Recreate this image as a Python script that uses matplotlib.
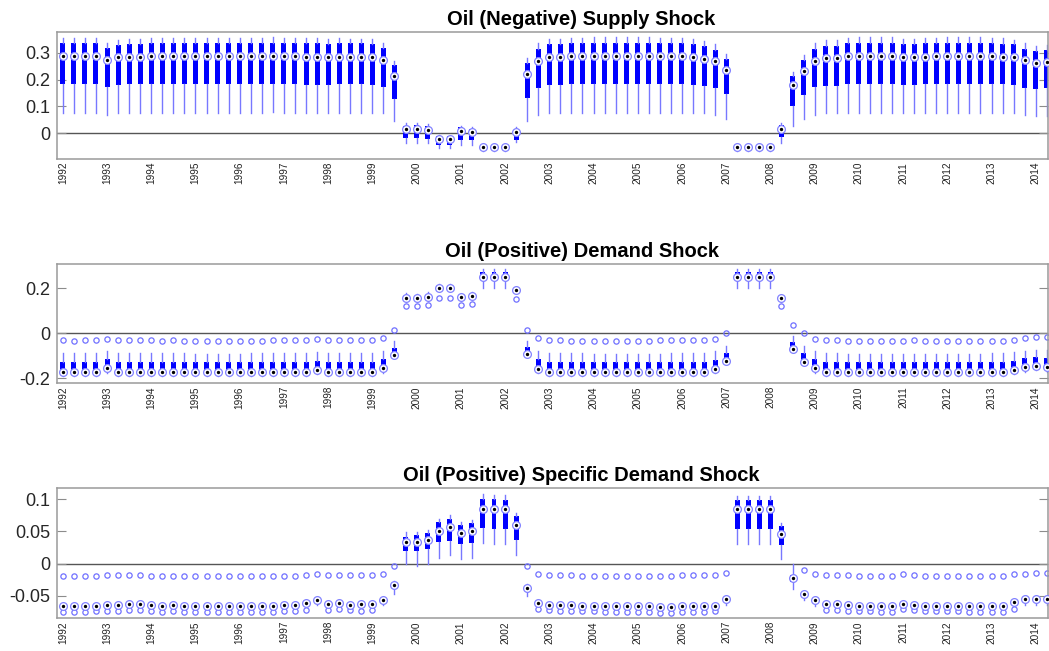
import numpy as np
import matplotlib
matplotlib.use('Agg')
import matplotlib.pyplot as plt
from matplotlib import font_manager

nan = np.nan

# quarterly positions, 1992Q1 .. 2014Q2
years = [str(y) for y in range(1992, 2015)]
n_q = 90

# ---- Oil (Negative) Supply Shock ----
sup_med = [0.287, 0.287, 0.287, 0.287, 0.272, 0.284, 0.285, 0.285, 0.287, 0.287, 0.287, 0.289,
           0.289, 0.289, 0.289, 0.289, 0.289, 0.289, 0.289, 0.290, 0.289, 0.289, 0.285, 0.285,
           0.285, 0.285, 0.285, 0.285, 0.285, 0.272, 0.214, 0.015, 0.017, 0.013, -0.020, -0.020,
           0.010, 0.004, -0.052, -0.052, -0.052, 0.004, 0.222, 0.268, 0.285, 0.285, 0.287, 0.287,
           0.288, 0.288, 0.289, 0.289, 0.289, 0.289, 0.287, 0.287, 0.287, 0.285, 0.277, 0.269,
           0.236, -0.053, -0.053, -0.053, -0.053, 0.017, 0.180, 0.232, 0.270, 0.279, 0.279, 0.287,
           0.287, 0.287, 0.287, 0.287, 0.283, 0.283, 0.285, 0.287, 0.287, 0.287, 0.287, 0.287,
           0.287, 0.285, 0.283, 0.272, 0.262, 0.266]
sup_q3 = [0.336, 0.336, 0.336, 0.336, 0.318, 0.331, 0.334, 0.334, 0.336, 0.336, 0.336, 0.337,
          0.337, 0.337, 0.337, 0.337, 0.337, 0.337, 0.337, 0.338, 0.337, 0.337, 0.335, 0.335,
          0.334, 0.335, 0.335, 0.335, 0.332, 0.320, 0.255, 0.028, 0.030, 0.027, -0.010, -0.011,
          0.025, 0.017, -0.050, -0.050, -0.050, 0.016, 0.262, 0.313, 0.332, 0.333, 0.335, 0.335,
          0.337, 0.337, 0.338, 0.338, 0.338, 0.338, 0.336, 0.335, 0.335, 0.333, 0.325, 0.312,
          0.277, -0.051, -0.051, -0.051, -0.051, 0.031, 0.214, 0.272, 0.316, 0.326, 0.327, 0.335,
          0.336, 0.336, 0.336, 0.336, 0.333, 0.333, 0.335, 0.336, 0.336, 0.336, 0.336, 0.336,
          0.336, 0.334, 0.332, 0.316, 0.307, 0.312]
sup_q1 = [0.183, 0.183, 0.183, 0.183, 0.172, 0.181, 0.182, 0.182, 0.183, 0.183, 0.183, 0.183,
          0.184, 0.184, 0.184, 0.184, 0.184, 0.184, 0.184, 0.184, 0.184, 0.184, 0.181, 0.181,
          0.181, 0.182, 0.182, 0.182, 0.180, 0.173, 0.128, -0.019, -0.019, -0.021, -0.043, -0.045,
          -0.025, -0.027, -0.055, -0.055, -0.055, -0.025, 0.132, 0.170, 0.180, 0.181, 0.182, 0.183,
          0.184, 0.184, 0.184, 0.184, 0.184, 0.184, 0.183, 0.182, 0.182, 0.180, 0.176, 0.170,
          0.145, -0.055, -0.055, -0.055, -0.055, -0.015, 0.103, 0.142, 0.171, 0.178, 0.178, 0.184,
          0.184, 0.184, 0.184, 0.184, 0.181, 0.181, 0.183, 0.184, 0.184, 0.184, 0.184, 0.184,
          0.184, 0.183, 0.180, 0.170, 0.164, 0.168]
sup_hi = [0.354, 0.354, 0.354, 0.354, 0.338, 0.349, 0.352, 0.353, 0.355, 0.355, 0.356, 0.356,
          0.357, 0.357, 0.357, 0.357, 0.357, 0.357, 0.357, 0.358, 0.357, 0.357, 0.355, 0.355,
          0.353, 0.354, 0.353, 0.353, 0.350, 0.338, 0.270, 0.037, 0.037, 0.035, -0.008, -0.009,
          0.028, 0.022, -0.050, -0.050, -0.050, 0.022, 0.279, 0.335, 0.350, 0.353, 0.355, 0.356,
          0.358, 0.358, 0.359, 0.359, 0.359, 0.358, 0.356, 0.354, 0.354, 0.352, 0.343, 0.332,
          0.295, -0.050, -0.050, -0.050, -0.050, 0.037, 0.229, 0.291, 0.335, 0.347, 0.347, 0.357,
          0.358, 0.358, 0.358, 0.358, 0.352, 0.352, 0.355, 0.357, 0.358, 0.358, 0.358, 0.358,
          0.357, 0.355, 0.347, 0.335, 0.326, 0.330]
sup_lo = [0.077, 0.077, 0.077, 0.077, 0.069, 0.075, 0.076, 0.076, 0.077, 0.077, 0.077, 0.077,
          0.077, 0.077, 0.077, 0.077, 0.077, 0.077, 0.077, 0.078, 0.077, 0.077, 0.077, 0.077,
          0.076, 0.077, 0.077, 0.077, 0.077, 0.074, 0.046, -0.037, -0.037, -0.038, -0.056, -0.056,
          -0.043, -0.043, -0.066, -0.066, -0.066, -0.032, 0.046, 0.068, 0.077, 0.077, 0.077, 0.077,
          0.077, 0.077, 0.077, 0.077, 0.077, 0.077, 0.077, 0.077, 0.077, 0.076, 0.074, 0.068,
          0.052, -0.066, -0.066, -0.066, -0.066, -0.037, 0.028, 0.052, 0.068, 0.074, 0.074, 0.077,
          0.077, 0.077, 0.077, 0.077, 0.077, 0.077, 0.077, 0.077, 0.077, 0.077, 0.077, 0.077,
          0.077, 0.076, 0.074, 0.068, 0.064, 0.066]

# ---- Oil (Positive) Demand Shock ----
dem_med = [-0.172, -0.172, -0.172, -0.172, -0.156, -0.172, -0.172, -0.171, -0.172, -0.172, -0.172, -0.172,
           -0.172, -0.172, -0.173, -0.173, -0.173, -0.172, -0.172, -0.172, -0.171, -0.171, -0.170, -0.163,
           -0.170, -0.170, -0.172, -0.172, -0.172, -0.156, -0.098, 0.159, 0.156, 0.163, 0.203, 0.203,
           0.160, 0.166, 0.252, 0.252, 0.252, 0.193, -0.093, -0.158, -0.172, -0.172, -0.172, -0.172,
           -0.173, -0.173, -0.173, -0.173, -0.173, -0.173, -0.173, -0.172, -0.172, -0.172, -0.172, -0.157,
           -0.123, 0.252, 0.252, 0.252, 0.252, 0.155, -0.070, -0.126, -0.156, -0.172, -0.172, -0.173,
           -0.173, -0.173, -0.173, -0.173, -0.173, -0.173, -0.173, -0.173, -0.173, -0.173, -0.173, -0.173,
           -0.172, -0.172, -0.163, -0.151, -0.144, -0.151]
dem_q3 = [-0.128, -0.128, -0.128, -0.128, -0.116, -0.128, -0.127, -0.126, -0.128, -0.128, -0.128, -0.128,
          -0.129, -0.129, -0.129, -0.129, -0.129, -0.128, -0.128, -0.128, -0.127, -0.127, -0.126, -0.122,
          -0.126, -0.126, -0.128, -0.128, -0.128, -0.114, -0.067, 0.165, 0.162, 0.169, 0.209, 0.209,
          0.166, 0.172, 0.272, 0.272, 0.272, 0.199, -0.062, -0.116, -0.128, -0.128, -0.128, -0.128,
          -0.129, -0.129, -0.129, -0.129, -0.129, -0.129, -0.129, -0.128, -0.128, -0.128, -0.128, -0.118,
          -0.089, 0.272, 0.272, 0.272, 0.272, 0.161, -0.039, -0.089, -0.114, -0.128, -0.128, -0.129,
          -0.129, -0.129, -0.129, -0.129, -0.129, -0.129, -0.129, -0.129, -0.129, -0.129, -0.129, -0.129,
          -0.128, -0.128, -0.121, -0.111, -0.104, -0.111]
dem_q1 = [-0.176, -0.176, -0.176, -0.176, -0.160, -0.176, -0.176, -0.175, -0.176, -0.176, -0.176, -0.176,
          -0.176, -0.176, -0.177, -0.177, -0.177, -0.176, -0.176, -0.176, -0.175, -0.175, -0.174, -0.167,
          -0.174, -0.174, -0.176, -0.176, -0.176, -0.160, -0.102, 0.153, 0.150, 0.157, 0.197, 0.197,
          0.154, 0.160, 0.246, 0.246, 0.246, 0.187, -0.097, -0.162, -0.176, -0.176, -0.176, -0.176,
          -0.177, -0.177, -0.177, -0.177, -0.177, -0.177, -0.177, -0.176, -0.176, -0.176, -0.176, -0.161,
          -0.127, 0.246, 0.246, 0.246, 0.246, 0.149, -0.074, -0.130, -0.160, -0.176, -0.176, -0.177,
          -0.177, -0.177, -0.177, -0.177, -0.177, -0.177, -0.177, -0.177, -0.177, -0.177, -0.177, -0.177,
          -0.176, -0.176, -0.167, -0.155, -0.148, -0.155]
dem_hi = [-0.089, -0.089, -0.089, -0.089, -0.079, -0.089, -0.088, -0.087, -0.089, -0.089, -0.089, -0.089,
          -0.090, -0.090, -0.090, -0.090, -0.090, -0.089, -0.089, -0.089, -0.088, -0.088, -0.087, -0.083,
          -0.087, -0.087, -0.089, -0.089, -0.089, -0.079, -0.033, 0.178, 0.175, 0.182, 0.219, 0.219,
          0.177, 0.183, 0.284, 0.284, 0.284, 0.207, -0.033, -0.079, -0.089, -0.089, -0.089, -0.089,
          -0.090, -0.090, -0.090, -0.090, -0.090, -0.090, -0.090, -0.089, -0.089, -0.089, -0.089, -0.080,
          -0.056, 0.284, 0.284, 0.284, 0.284, 0.172, -0.012, -0.055, -0.079, -0.089, -0.089, -0.090,
          -0.090, -0.090, -0.090, -0.090, -0.090, -0.090, -0.090, -0.090, -0.090, -0.090, -0.090, -0.090,
          -0.089, -0.089, -0.085, -0.078, -0.072, -0.076]
dem_lo = [-0.190, -0.190, -0.190, -0.190, -0.175, -0.190, -0.190, -0.189, -0.190, -0.190, -0.190, -0.190,
          -0.190, -0.190, -0.191, -0.191, -0.191, -0.190, -0.190, -0.190, -0.189, -0.189, -0.188, -0.182,
          -0.188, -0.188, -0.190, -0.190, -0.190, -0.175, -0.111, 0.148, 0.145, 0.152, 0.192, 0.192,
          0.149, 0.155, 0.200, 0.200, 0.200, 0.182, -0.107, -0.176, -0.190, -0.190, -0.190, -0.190,
          -0.191, -0.191, -0.191, -0.191, -0.191, -0.191, -0.191, -0.190, -0.190, -0.190, -0.190, -0.176,
          -0.137, 0.200, 0.200, 0.200, 0.200, 0.144, -0.082, -0.140, -0.175, -0.190, -0.190, -0.191,
          -0.191, -0.191, -0.191, -0.191, -0.191, -0.191, -0.191, -0.191, -0.191, -0.191, -0.191, -0.191,
          -0.190, -0.190, -0.182, -0.170, -0.162, -0.170]
dem_out = [-0.031, -0.033, -0.031, -0.030, -0.024, -0.031, -0.031, -0.030, -0.031, -0.033, -0.031, -0.033,
           -0.034, -0.033, -0.034, -0.033, -0.034, -0.034, -0.033, -0.031, -0.031, -0.031, -0.030, -0.027,
           -0.030, -0.030, -0.031, -0.031, -0.030, -0.022, 0.016, 0.123, 0.120, 0.126, 0.158, 0.157,
           0.126, 0.129, nan, nan, nan, 0.151, 0.016, -0.022, -0.031, -0.031, -0.033, -0.033,
           -0.033, -0.033, -0.034, -0.034, -0.034, -0.034, -0.031, -0.031, -0.031, -0.031, -0.031, -0.025,
           0.000, nan, nan, nan, nan, 0.121, 0.037, 0.000, -0.025, -0.031, -0.031, -0.033,
           -0.033, -0.034, -0.034, -0.034, -0.033, -0.031, -0.033, -0.033, -0.033, -0.033, -0.033, -0.033,
           -0.034, -0.033, -0.030, -0.022, -0.018, -0.018]

# ---- Oil (Positive) Specific Demand Shock ----
spec_med = [-0.0663, -0.0663, -0.0663, -0.0652, -0.0642, -0.0637, -0.0631, -0.0626, -0.0642, -0.0652, -0.0647, -0.0652,
            -0.0652, -0.0657, -0.0663, -0.0657, -0.0657, -0.0657, -0.0657, -0.0652, -0.0647, -0.0647, -0.0611, -0.0559,
            -0.0621, -0.0611, -0.0647, -0.0631, -0.0631, -0.0559, -0.0336, 0.0336, 0.0331, 0.0362, 0.0512, 0.0575,
            0.0481, 0.0507, 0.0854, 0.0854, 0.0854, 0.0606, -0.0383, -0.0611, -0.0637, -0.0637, -0.0647, -0.0652,
            -0.0652, -0.0652, -0.0652, -0.0652, -0.0657, -0.0663, -0.0673, -0.0673, -0.0652, -0.0657, -0.0657, -0.0652,
            -0.0543, 0.0844, 0.0844, 0.0844, 0.0844, 0.0466, -0.0223, -0.0466, -0.0559, -0.0621, -0.0631, -0.0647,
            -0.0652, -0.0652, -0.0663, -0.0652, -0.0621, -0.0637, -0.0652, -0.0652, -0.0657, -0.0657, -0.0663, -0.0663,
            -0.0663, -0.0663, -0.0600, -0.0543, -0.0543, -0.0543]
spec_q3 = [-0.065, -0.065, -0.065, -0.064, -0.063, -0.062, -0.062, -0.061, -0.063, -0.064, -0.063, -0.064,
           -0.064, -0.064, -0.065, -0.064, -0.064, -0.064, -0.064, -0.064, -0.063, -0.063, -0.060, -0.054,
           -0.061, -0.060, -0.063, -0.062, -0.062, -0.054, -0.031, 0.042, 0.044, 0.048, 0.064, 0.070,
           0.060, 0.063, 0.101, 0.100, 0.099, 0.074, -0.036, -0.060, -0.062, -0.062, -0.063, -0.064,
           -0.064, -0.064, -0.064, -0.064, -0.064, -0.065, -0.066, -0.066, -0.064, -0.064, -0.064, -0.064,
           -0.053, 0.099, 0.099, 0.099, 0.099, 0.058, -0.018, -0.045, -0.054, -0.061, -0.062, -0.063,
           -0.064, -0.064, -0.065, -0.064, -0.061, -0.062, -0.064, -0.064, -0.064, -0.064, -0.065, -0.065,
           -0.065, -0.065, -0.059, -0.053, -0.053, -0.053]
spec_q1 = [-0.068, -0.068, -0.068, -0.067, -0.066, -0.065, -0.065, -0.064, -0.066, -0.067, -0.066, -0.067,
           -0.067, -0.067, -0.068, -0.067, -0.067, -0.067, -0.067, -0.067, -0.066, -0.066, -0.063, -0.058,
           -0.064, -0.063, -0.066, -0.065, -0.065, -0.058, -0.036, 0.020, 0.019, 0.022, 0.033, 0.035,
           0.030, 0.032, 0.055, 0.054, 0.054, 0.037, -0.041, -0.063, -0.065, -0.065, -0.066, -0.067,
           -0.067, -0.067, -0.067, -0.067, -0.067, -0.068, -0.069, -0.069, -0.067, -0.067, -0.067, -0.067,
           -0.056, 0.054, 0.054, 0.054, 0.054, 0.029, -0.029, -0.049, -0.058, -0.064, -0.065, -0.066,
           -0.067, -0.067, -0.068, -0.067, -0.064, -0.065, -0.067, -0.067, -0.067, -0.067, -0.068, -0.068,
           -0.068, -0.068, -0.062, -0.056, -0.056, -0.056]
spec_hi = [-0.064, -0.064, -0.064, -0.063, -0.062, -0.061, -0.061, -0.060, -0.062, -0.063, -0.062, -0.063,
           -0.063, -0.063, -0.064, -0.063, -0.063, -0.063, -0.063, -0.063, -0.062, -0.062, -0.059, -0.053,
           -0.060, -0.059, -0.062, -0.061, -0.061, -0.053, -0.027, 0.049, 0.049, 0.053, 0.069, 0.076,
           0.064, 0.068, 0.108, 0.106, 0.106, 0.079, -0.032, -0.059, -0.061, -0.061, -0.062, -0.063,
           -0.063, -0.063, -0.063, -0.063, -0.063, -0.064, -0.065, -0.065, -0.063, -0.063, -0.063, -0.063,
           -0.052, 0.105, 0.105, 0.105, 0.105, 0.063, 0.000, -0.042, -0.053, -0.060, -0.061, -0.062,
           -0.063, -0.063, -0.064, -0.063, -0.060, -0.061, -0.063, -0.063, -0.063, -0.063, -0.064, -0.064,
           -0.064, -0.064, -0.058, -0.052, -0.052, -0.052]
spec_lo = [-0.070, -0.070, -0.070, -0.069, -0.068, -0.068, -0.067, -0.067, -0.068, -0.069, -0.069, -0.069,
           -0.069, -0.070, -0.070, -0.070, -0.070, -0.070, -0.070, -0.069, -0.069, -0.069, -0.065, -0.064,
           -0.066, -0.065, -0.069, -0.067, -0.067, -0.064, -0.047, -0.001, -0.003, 0.000, 0.009, 0.013,
           0.007, 0.009, 0.032, 0.031, 0.031, 0.014, -0.050, -0.065, -0.068, -0.068, -0.069, -0.069,
           -0.069, -0.069, -0.069, -0.069, -0.070, -0.070, -0.071, -0.071, -0.069, -0.070, -0.070, -0.069,
           -0.065, 0.031, 0.031, 0.031, 0.031, 0.007, -0.039, -0.057, -0.066, -0.066, -0.067, -0.069,
           -0.069, -0.069, -0.070, -0.069, -0.066, -0.068, -0.069, -0.069, -0.070, -0.070, -0.070, -0.070,
           -0.070, -0.070, -0.064, -0.065, -0.065, -0.065]
spec_out_hi = [-0.0192, -0.0192, -0.0192, -0.0186, -0.0176, -0.0176, -0.0171, -0.0171, -0.0186, -0.0192, -0.0192, -0.0192,
               -0.0192, -0.0197, -0.0192, -0.0192, -0.0192, -0.0197, -0.0192, -0.0192, -0.0192, -0.0186, -0.0171, -0.0155,
               -0.0176, -0.0171, -0.0181, -0.0181, -0.0181, -0.0155, -0.0031, nan, nan, nan, nan, nan,
               nan, nan, nan, nan, nan, nan, -0.0041, -0.0160, -0.0181, -0.0181, -0.0181, -0.0186,
               -0.0186, -0.0186, -0.0186, -0.0186, -0.0192, -0.0192, -0.0197, -0.0197, -0.0181, -0.0181, -0.0181, -0.0176,
               -0.0140, nan, nan, nan, nan, nan, nan, -0.0098, -0.0155, -0.0181, -0.0181, -0.0181,
               -0.0186, -0.0186, -0.0186, -0.0186, -0.0166, -0.0181, -0.0186, -0.0186, -0.0186, -0.0186, -0.0186, -0.0192,
               -0.0192, -0.0192, -0.0166, -0.0155, -0.0145, -0.0145]
spec_out_lo = [-0.0750, -0.0750, -0.0750, -0.0740, -0.0730, -0.0730, -0.0725, -0.0719, -0.0735, -0.0750, -0.0740, -0.0750,
               -0.0750, -0.0756, -0.0756, -0.0750, -0.0750, -0.0750, -0.0750, -0.0745, -0.0740, -0.0740, -0.0714, nan,
               -0.0714, -0.0699, -0.0725, -0.0735, -0.0725, nan, nan, nan, nan, nan, nan, nan,
               nan, nan, nan, nan, nan, nan, nan, -0.0709, -0.0725, -0.0735, -0.0735, -0.0740,
               -0.0740, -0.0745, -0.0745, -0.0745, -0.0750, -0.0750, -0.0766, -0.0766, -0.0750, -0.0750, -0.0750, -0.0740,
               nan, nan, nan, nan, nan, nan, nan, nan, nan, -0.0714, -0.0725, -0.0735,
               -0.0740, -0.0740, -0.0756, -0.0750, -0.0709, -0.0725, -0.0735, -0.0735, -0.0740, -0.0740, -0.0750, -0.0750,
               -0.0750, -0.0750, -0.0699, nan, nan, nan]


def box_stats(med, q1, q3, lo, hi, *outs):
    stats = []
    for k in range(len(med)):
        fl = [o[k] for o in outs if not np.isnan(o[k])]
        stats.append(dict(med=med[k], q1=q1[k], q3=q3[k], whislo=lo[k], whishi=hi[k], fliers=fl))
    return stats


names = {f.name for f in font_manager.fontManager.ttflist}
xfont = 'Liberation Sans Narrow' if 'Liberation Sans Narrow' in names else 'Liberation Sans'
plt.rcParams['font.family'] = 'Liberation Sans'
plt.rcParams['axes.unicode_minus'] = False

fig = plt.figure(figsize=(10.49, 6.51), dpi=100)

panels = [
    ('Oil (Negative) Supply Shock', box_stats(sup_med, sup_q1, sup_q3, sup_lo, sup_hi), sup_med,
     [0.0546, 0.7558, 0.9449, 0.1955], (-0.096, 0.379), [0, 0.1, 0.2, 0.3], ['0', '0.1', '0.2', '0.3']),
    ('Oil (Positive) Demand Shock', box_stats(dem_med, dem_q1, dem_q3, dem_lo, dem_hi, dem_out), dem_med,
     [0.0546, 0.4112, 0.9449, 0.1828], (-0.222, 0.307), [-0.2, 0, 0.2], ['-0.2', '0', '0.2']),
    ('Oil (Positive) Specific Demand Shock',
     box_stats(spec_med, spec_q1, spec_q3, spec_lo, spec_hi, spec_out_hi, spec_out_lo), spec_med,
     [0.0546, 0.0502, 0.9449, 0.1997], (-0.085, 0.117), [-0.05, 0, 0.05, 0.1], ['-0.05', '0', '0.05', '0.1']),
]

pos = np.arange(1, n_q + 1)
for title, stats, med, rect, ylim, yt, ytl in panels:
    ax = fig.add_axes(rect)
    ax.axhline(0, color='#555555', lw=1.0, zorder=0.5)
    ax.bxp(stats, positions=pos, widths=0.45, patch_artist=True, showcaps=False,
           manage_ticks=False,
           boxprops=dict(facecolor='#0000ff', edgecolor='none', linewidth=0),
           whiskerprops=dict(color='#7878ff', linewidth=1.0),
           medianprops=dict(linewidth=0),
           flierprops=dict(marker='o', markersize=3.8, markerfacecolor='none',
                           markeredgecolor='#7070ff', markeredgewidth=0.9))
    ax.plot(pos, med, 'o', ms=5.6, mfc='white', mec='#8282ff', mew=0.9, zorder=4)
    ax.plot(pos, med, 'o', ms=1.4, color='black', zorder=5)

    ax.set_xlim(0.5, 90.15)
    ax.set_ylim(*ylim)
    ax.set_yticks(yt, ytl)
    ax.set_xticks(pos[::4], years)
    ax.tick_params(axis='y', which='both', direction='in', length=6.5, width=0.8,
                   color='#8c8c8c', labelsize=13, labelcolor='#262626', pad=5, right=True)
    ax.tick_params(axis='x', length=0, labelsize=7.2, labelcolor='#222222',
                   labelrotation=90, pad=2)
    for lab in ax.get_xticklabels():
        lab.set_fontfamily(xfont)
    for s in ax.spines.values():
        s.set_color('#9a9a9a')
        s.set_linewidth(1.1)
    ax.set_title(title, fontsize=14.5, fontweight='bold', x=0.529, pad=5)

fig.savefig('out.png', dpi=100)
